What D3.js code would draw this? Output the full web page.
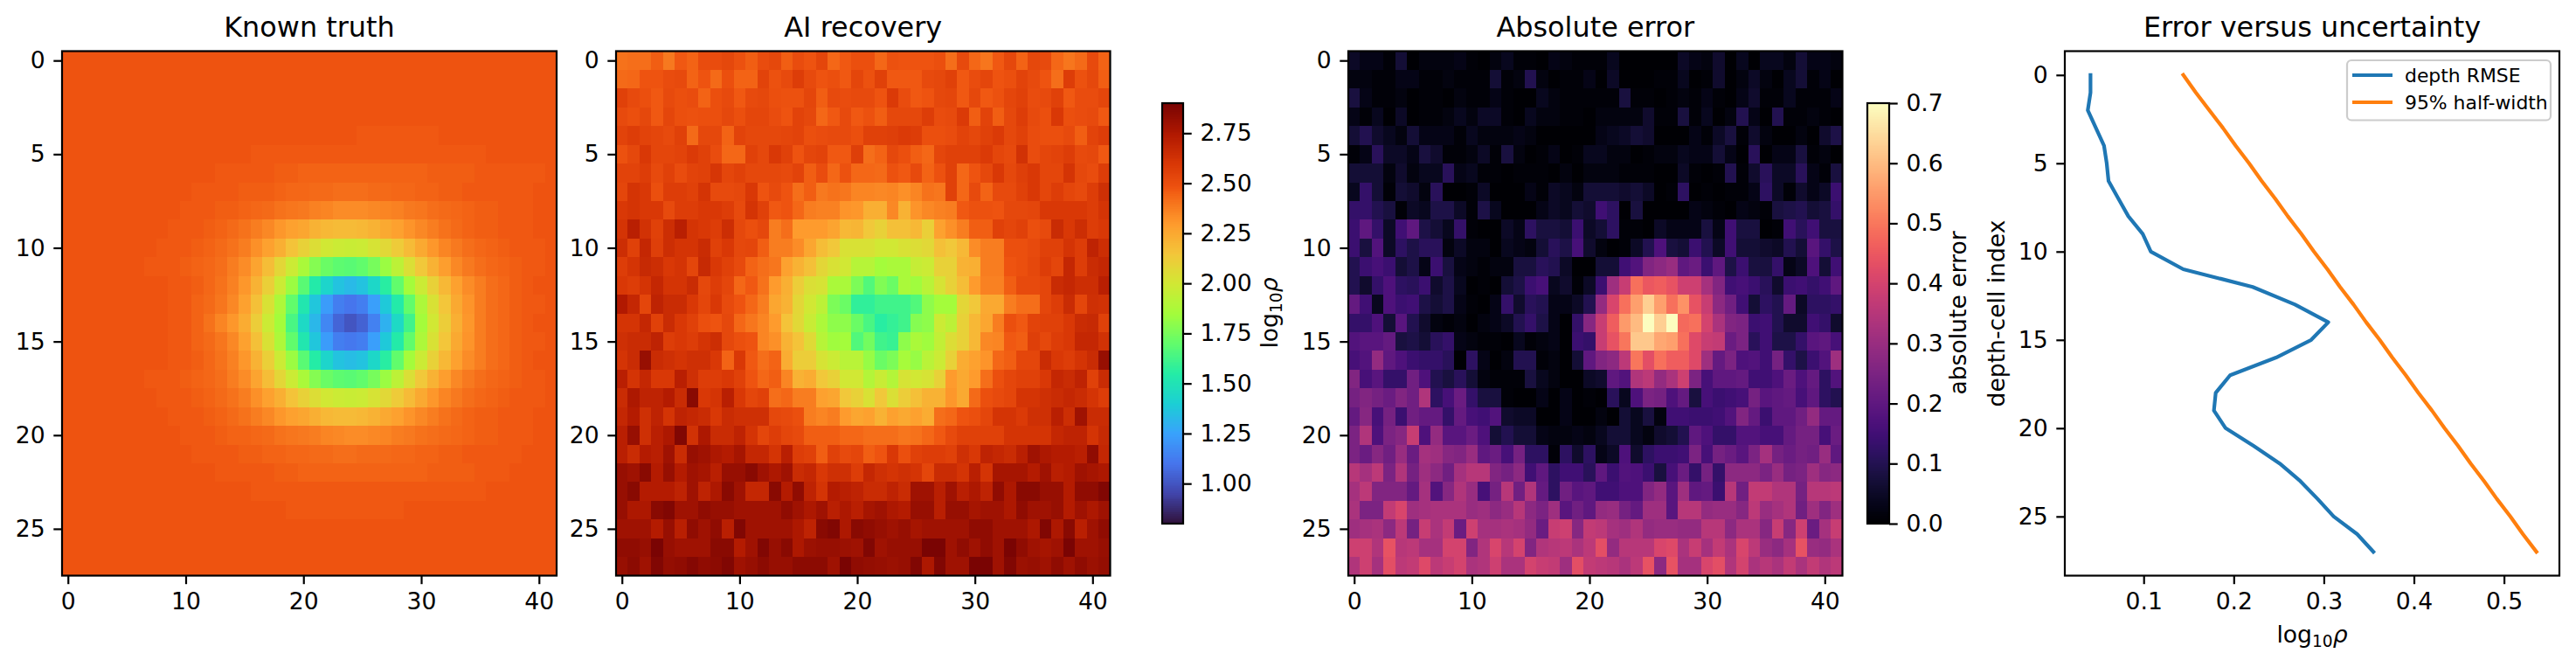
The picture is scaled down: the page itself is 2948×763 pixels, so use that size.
<!DOCTYPE html>
<html>
  <head>
    <meta charset="UTF-8" />
    <script src="https://d3js.org/d3.v7.min.js"></script>
    <style>
      body { margin: 0; background: #fff; }
      text { font-family: "DejaVu Sans", sans-serif; fill: #000; }
    </style>
  </head>
  <body>
    <div id="my_dataviz"></div>

    <script>
      // log10 rho x 100
      const truthRows = [
        [248,248,248,248,248,248,248,248,248,248,248,248,248,248,248,248,248,248,248,248,248,248,248,248,248,248,248,248,248,248,248,248,248,248,248,248,248,248,248,248,248,248],
        [248,248,248,248,248,248,248,248,248,248,248,248,248,248,248,248,248,248,248,248,248,248,248,248,248,248,248,248,248,248,248,248,248,248,248,248,248,248,248,248,248,248],
        [248,248,248,248,248,248,248,248,248,248,248,248,248,248,248,248,248,248,248,248,248,248,248,248,248,248,248,248,248,248,248,248,248,248,248,248,248,248,248,248,248,248],
        [248,248,248,248,248,248,248,248,248,248,248,248,248,248,248,248,248,248,248,248,248,248,248,248,248,248,248,248,248,248,248,248,248,248,248,248,248,248,248,248,248,248],
        [248,248,248,248,248,248,248,248,248,248,248,248,248,248,248,248,248,248,248,248,248,248,248,248,248,247,247,247,247,247,247,247,248,248,248,248,248,248,248,248,248,248],
        [248,248,248,248,248,248,248,248,248,248,248,248,248,248,248,248,247,247,247,247,247,247,247,247,247,247,247,247,247,247,247,247,247,247,247,247,248,248,248,248,248,248],
        [248,248,248,248,248,248,248,248,248,248,248,248,248,247,247,247,247,247,246,246,245,245,245,245,245,245,245,245,245,245,245,246,246,246,246,247,247,247,247,247,247,248],
        [248,248,248,248,248,248,248,248,248,248,248,247,247,247,247,246,246,246,245,244,244,243,243,242,242,242,243,243,244,244,245,245,246,246,247,247,247,247,247,247,248,248],
        [248,248,248,248,248,248,248,248,248,248,247,247,247,246,246,245,244,243,241,240,239,237,236,234,234,234,235,236,237,239,240,242,243,244,245,246,246,247,247,247,248,248],
        [248,248,248,248,248,248,248,248,248,247,247,247,246,245,243,241,238,235,231,228,226,222,220,219,219,220,222,225,228,232,235,238,241,243,245,246,246,247,247,247,248,248],
        [248,248,248,248,248,248,248,248,247,247,247,246,245,243,241,238,233,228,223,216,210,205,200,198,197,198,202,207,213,219,225,231,236,239,242,244,245,246,247,247,247,248],
        [248,248,248,248,248,248,248,247,247,247,246,245,244,242,238,234,227,218,208,198,187,178,172,169,168,170,175,183,193,204,214,222,229,235,239,242,244,245,246,247,247,248],
        [248,248,248,248,248,248,248,248,248,247,247,246,244,241,237,231,222,211,198,183,168,154,143,136,133,136,144,156,170,185,198,210,220,228,234,238,242,244,246,247,248,248],
        [248,248,248,248,248,248,248,248,248,247,247,245,243,240,235,228,217,203,188,170,152,137,123,113,110,113,124,138,154,170,188,203,215,225,232,238,242,244,246,247,247,248],
        [248,248,248,248,248,248,248,248,248,247,247,245,241,236,231,224,212,198,185,164,145,132,116,105,100,104,114,130,145,162,185,200,212,223,231,238,242,244,246,247,248,248],
        [248,248,248,248,248,248,248,248,248,247,247,245,243,240,235,228,217,203,188,170,152,137,123,113,111,113,124,138,154,170,188,203,215,225,232,238,242,244,246,247,247,248],
        [248,248,248,248,248,248,248,248,248,247,247,246,244,241,237,231,222,211,198,183,168,155,143,136,134,136,144,156,170,185,198,210,220,228,234,238,242,244,246,247,248,248],
        [248,248,248,248,248,248,248,247,247,247,246,245,244,242,238,234,227,218,208,198,187,178,172,169,168,170,175,183,193,204,214,222,229,235,239,242,244,245,246,247,247,248],
        [248,248,248,248,248,248,248,248,247,247,247,246,245,243,241,238,233,228,223,216,210,205,200,198,197,198,202,207,213,219,225,231,236,239,242,244,245,246,247,247,247,248],
        [248,248,248,248,248,248,248,248,248,247,247,247,246,245,243,241,238,235,231,228,226,223,220,219,219,220,222,225,228,232,235,238,241,243,245,246,246,247,247,247,248,248],
        [248,248,248,248,248,248,248,248,248,248,247,247,247,246,245,245,244,243,241,240,239,238,236,235,234,234,235,236,238,239,241,242,243,244,245,246,246,247,247,247,248,248],
        [248,248,248,248,248,248,248,248,248,248,248,247,247,247,247,246,246,245,245,244,244,243,243,242,242,243,243,243,244,244,245,245,246,246,247,247,247,247,247,248,248,248],
        [248,248,248,248,248,248,248,248,248,248,248,248,248,247,247,247,247,247,246,246,245,245,245,245,245,245,245,245,245,245,245,246,246,246,246,247,247,247,248,248,248,248],
        [248,248,248,248,248,248,248,248,248,248,248,248,248,248,248,248,247,247,247,247,247,247,247,247,247,247,247,247,247,247,247,247,247,247,247,247,248,248,248,248,248,248],
        [248,248,248,248,248,248,248,248,248,248,248,248,248,248,248,248,248,248,248,247,247,247,247,247,247,247,247,247,247,248,248,248,248,248,248,248,248,248,248,248,248,248],
        [248,248,248,248,248,248,248,248,248,248,248,248,248,248,248,248,248,248,248,248,248,248,248,248,248,248,248,248,248,248,248,248,248,248,248,248,248,248,248,248,248,248],
        [248,248,248,248,248,248,248,248,248,248,248,248,248,248,248,248,248,248,248,248,248,248,248,248,248,248,248,248,248,248,248,248,248,248,248,248,248,248,248,248,248,248],
        [248,248,248,248,248,248,248,248,248,248,248,248,248,248,248,248,248,248,248,248,248,248,248,248,248,248,248,248,248,248,248,248,248,248,248,248,248,248,248,248,248,248],
      ];

      // log10 rho x 100
      const recoveredRows = [
        [241,242,242,246,239,247,245,251,251,253,249,246,251,253,246,251,248,254,244,247,250,250,244,249,248,248,248,250,242,252,244,240,247,253,245,253,252,244,240,243,252,245],
        [243,244,248,248,251,252,245,248,243,250,245,245,255,249,252,258,252,248,250,247,254,249,256,247,247,247,252,253,256,247,251,254,248,250,255,252,248,242,258,249,253,246],
        [256,252,250,247,252,250,251,245,250,252,247,252,253,250,249,249,254,246,252,251,252,252,248,259,251,247,248,253,254,247,253,247,249,254,256,251,252,256,247,251,251,254],
        [252,250,253,247,254,250,249,250,250,253,250,254,254,251,248,255,253,244,247,252,247,249,246,253,253,253,258,251,252,259,246,255,246,253,258,252,250,260,250,251,252,247],
        [255,258,255,254,252,256,243,253,253,245,255,253,253,253,254,255,250,251,252,252,250,256,256,257,259,258,250,250,251,255,253,256,259,253,256,251,250,250,252,246,255,258],
        [249,253,260,254,254,255,259,256,251,244,244,256,253,260,256,248,254,255,247,247,257,242,245,253,250,246,244,254,256,256,256,259,254,252,263,251,254,255,258,252,253,247],
        [255,255,258,252,256,251,255,256,261,254,256,253,253,253,252,255,246,251,244,249,244,244,243,249,247,252,245,249,256,244,248,253,260,253,257,260,254,254,262,253,251,258],
        [254,262,260,250,258,258,256,262,252,252,253,260,248,252,248,242,246,239,241,240,236,236,235,236,233,236,241,240,256,244,252,245,252,252,256,260,254,258,254,252,258,264],
        [260,262,260,260,252,258,258,260,260,258,252,262,256,247,248,244,238,237,237,232,231,223,223,235,222,232,235,237,238,247,249,249,248,253,253,254,260,260,260,260,258,262],
        [262,272,263,256,265,272,262,260,258,265,253,250,253,238,242,230,230,230,227,220,221,214,210,217,217,220,211,228,233,238,246,246,256,254,256,250,252,266,260,265,258,260],
        [265,256,268,257,265,262,262,266,256,260,253,254,246,238,238,234,226,218,214,203,203,203,200,200,203,205,207,217,214,220,234,238,238,250,250,252,256,256,262,258,270,265],
        [258,262,267,265,260,262,254,267,260,256,252,245,242,240,228,222,217,208,203,200,191,191,185,187,187,196,198,210,210,222,223,238,238,248,250,253,258,254,268,258,266,268],
        [260,258,262,268,262,262,266,253,258,254,244,247,241,230,223,212,204,202,187,187,176,166,177,172,187,184,192,202,210,218,230,237,237,246,252,252,254,266,268,265,265,272],
        [275,268,254,270,266,266,260,254,260,252,248,244,238,226,222,208,200,193,176,172,158,158,162,162,162,166,180,185,185,208,214,225,225,238,242,242,254,258,266,254,264,263],
        [262,262,268,256,266,260,256,250,248,253,244,240,236,230,216,207,197,188,180,180,172,164,156,159,162,178,180,198,193,210,220,226,238,250,247,255,256,256,260,266,267,256],
        [264,266,266,270,258,260,258,262,265,253,250,248,236,233,222,216,206,191,184,185,166,174,162,160,180,187,184,195,205,210,220,235,236,247,246,257,253,258,260,268,268,263],
        [262,266,282,266,264,262,264,264,260,245,260,247,242,245,224,212,212,202,198,192,192,182,172,176,186,182,192,198,210,224,228,232,244,246,254,254,266,260,258,262,266,282],
        [272,262,268,260,260,272,264,258,258,260,256,248,244,246,236,222,224,214,210,200,200,190,197,190,202,200,202,210,230,225,230,242,250,254,256,256,260,268,266,270,256,266],
        [266,276,270,270,274,266,286,260,262,272,260,254,256,242,244,238,238,228,226,214,210,203,214,204,212,217,222,222,231,225,243,250,252,254,262,262,264,266,268,266,262,258],
        [268,274,264,270,262,270,268,266,260,266,264,264,264,253,252,250,238,236,238,230,226,228,222,228,225,228,224,242,244,248,250,254,262,262,259,264,264,272,265,280,266,266],
        [272,282,264,272,276,288,263,276,266,266,270,262,254,258,254,252,246,246,246,244,244,242,242,242,240,241,244,247,252,256,256,256,256,262,262,262,262,268,270,270,262,267],
        [272,266,274,272,280,266,282,280,276,274,278,268,268,262,272,258,256,246,256,252,254,246,248,260,250,256,258,258,256,264,260,270,268,266,272,280,276,274,274,272,284,268],
        [282,280,286,274,282,274,280,278,272,282,282,286,280,276,280,266,268,260,264,264,258,268,264,262,264,262,254,266,266,262,272,262,278,278,278,274,280,272,274,280,278,276],
        [282,286,274,274,274,270,280,270,276,286,280,268,268,286,274,284,270,262,274,272,270,266,266,270,266,280,280,272,280,272,276,270,284,276,286,286,282,282,274,284,284,288],
        [282,276,276,286,288,280,280,284,282,282,280,280,280,280,284,280,276,280,272,276,272,278,280,276,274,282,282,272,282,282,278,280,280,276,284,280,280,282,274,280,276,280],
        [280,280,280,274,282,272,284,280,284,272,288,280,280,280,280,276,270,286,288,276,286,284,282,280,282,278,280,280,280,280,284,284,280,280,280,276,288,276,286,272,280,284],
        [284,284,282,290,282,280,280,280,286,286,274,280,288,282,286,276,281,282,282,281,280,288,280,282,282,282,290,290,280,284,280,284,280,290,284,280,278,280,290,280,280,282],
        [282,285,280,288,283,284,287,284,285,288,280,282,285,282,282,285,285,285,280,290,284,283,282,281,282,288,276,288,280,280,290,290,280,288,281,282,280,284,280,284,281,283],
      ];

      // absolute error x 100
      const errorRows = [
        [5,3,3,1,7,0,2,2,2,3,1,0,2,4,1,1,0,3,2,1,1,1,4,0,0,0,0,0,5,3,2,6,0,4,0,4,4,2,7,3,3,2],
        [2,2,1,1,3,3,1,1,2,1,1,1,7,1,2,10,2,0,1,1,3,0,5,0,0,0,1,1,4,0,1,6,0,2,5,2,0,4,7,1,3,0],
        [8,3,1,1,2,0,1,1,0,2,1,1,3,1,0,0,4,2,1,1,1,1,1,8,1,1,0,1,2,1,3,1,0,3,6,1,1,4,1,1,1,3],
        [3,1,4,0,5,0,1,1,2,4,2,5,5,1,0,4,2,2,1,1,0,2,2,2,2,6,1,1,8,1,4,0,2,10,3,0,10,1,1,2,1,0],
        [7,10,6,4,2,7,3,3,3,1,4,2,2,2,3,2,0,0,0,0,0,3,4,5,7,6,0,0,0,3,1,5,8,1,6,2,0,0,2,0,6,9],
        [1,3,11,5,5,3,8,6,1,1,2,5,1,8,2,0,1,3,0,1,4,4,2,2,0,1,2,2,4,3,3,7,3,0,11,0,3,3,8,1,2,0],
        [7,7,7,2,6,2,4,4,11,3,4,1,1,0,1,1,1,0,2,0,2,2,2,1,1,1,0,0,5,1,0,1,10,1,6,11,5,5,11,3,1,8],
        [4,13,7,1,7,6,2,11,0,0,1,5,0,0,0,3,1,5,4,2,7,7,7,6,7,5,0,1,12,0,1,0,1,1,3,12,5,1,6,3,5,14],
        [13,13,10,8,1,5,4,9,9,5,1,9,4,0,0,0,3,5,4,7,6,15,12,0,8,0,0,0,0,3,2,1,0,3,2,1,8,9,10,7,8,13],
        [14,20,13,5,15,20,9,7,4,13,1,0,0,5,3,12,8,8,7,14,5,7,12,1,1,0,5,3,3,3,8,3,15,8,8,0,1,15,11,15,8,8],
        [14,8,18,5,12,9,11,11,2,5,2,2,0,4,3,2,7,11,9,16,6,2,0,1,5,10,17,8,7,14,10,5,15,7,7,6,5,10,7,19,13,9],
        [10,14,16,14,7,9,3,14,8,3,2,1,2,2,8,8,11,10,5,0,0,7,7,15,18,26,28,30,20,22,14,20,9,14,8,8,13,3,5,17,7,15],
        [10,6,13,17,12,11,14,6,9,4,0,1,0,7,9,14,16,4,6,1,5,14,31,38,49,45,46,44,39,39,32,26,15,16,14,11,6,14,15,13,15,20],
        [21,15,4,17,14,15,9,7,9,3,1,0,3,13,6,11,10,3,3,5,10,29,41,49,56,63,56,49,54,44,38,28,23,15,7,12,10,21,5,12,12,13],
        [13,13,17,7,19,10,6,2,1,2,0,2,3,5,10,13,9,3,0,13,27,38,46,55,60,70,63,70,48,49,40,33,26,25,14,15,10,6,6,15,13,6],
        [18,19,19,21,8,9,7,11,13,3,2,1,1,0,4,1,2,3,0,14,13,38,44,50,62,62,57,56,49,42,38,37,22,25,11,15,9,9,13,19,20,16],
        [16,18,29,20,17,14,13,13,11,0,12,3,0,2,10,10,1,2,0,7,20,26,28,36,50,43,49,46,46,42,31,21,25,17,18,15,24,13,9,14,18,31],
        [26,16,19,13,13,23,17,10,8,11,7,2,1,1,1,8,4,2,0,0,5,6,20,18,34,36,29,33,39,25,16,20,20,21,15,15,17,22,17,21,12,18],
        [24,26,24,22,26,23,34,12,16,22,13,8,8,1,0,0,3,0,3,0,1,0,11,4,17,25,24,17,21,8,16,14,15,16,24,19,20,21,16,20,12,10],
        [21,27,16,24,14,23,21,21,13,21,16,15,18,6,5,5,0,0,3,0,0,2,0,7,4,8,2,15,15,14,14,15,18,26,21,14,20,20,23,29,21,21],
        [25,34,17,25,27,38,17,29,19,19,22,17,7,10,7,7,3,2,2,3,2,4,7,7,4,2,6,7,10,20,17,13,13,18,18,16,16,21,24,24,16,22],
        [25,22,27,23,30,22,32,31,27,26,30,20,22,16,24,12,12,1,12,6,12,3,5,17,6,12,14,14,15,25,16,24,22,19,25,32,24,22,24,23,30,20],
        [35,32,36,25,34,24,31,28,23,32,35,35,26,24,28,15,20,12,15,15,11,20,14,18,17,14,8,16,22,13,24,13,28,28,28,25,30,24,25,31,27,28],
        [32,36,26,26,26,21,32,18,27,34,30,16,24,35,23,34,21,12,23,19,20,15,15,17,17,26,29,19,31,20,21,14,35,23,37,37,34,34,24,35,35,36],
        [33,25,25,37,41,31,32,33,33,33,30,31,28,30,35,28,25,31,19,23,20,29,30,24,21,31,31,19,35,35,29,30,30,27,36,30,32,34,23,31,26,31],
        [31,32,33,28,36,24,38,33,37,22,39,32,32,33,32,29,22,38,39,27,37,36,32,31,34,29,30,30,29,29,35,35,28,33,33,27,38,27,39,22,32,38],
        [39,39,34,44,35,36,32,32,40,40,26,34,41,35,40,26,34,35,36,33,36,43,29,35,35,35,41,42,33,38,32,37,33,41,36,30,28,32,44,30,29,33],
        [34,39,32,43,36,37,42,36,38,40,33,34,39,33,33,40,38,37,31,43,37,36,35,33,36,44,28,44,32,32,41,43,34,40,33,35,33,37,33,37,34,36],
      ];

      const depthRmse = [0.041,0.041,0.038,0.047,0.056,0.059,0.061,0.072,0.083,0.099,0.108,0.144,0.221,0.268,0.305,0.286,0.247,0.196,0.18,0.178,0.191,0.222,0.251,0.274,0.293,0.311,0.337,0.355];
      const halfWidth = [0.144,0.158,0.173,0.188,0.202,0.217,0.231,0.246,0.26,0.275,0.289,0.304,0.318,0.333,0.347,0.362,0.376,0.391,0.405,0.42,0.434,0.449,0.463,0.478,0.492,0.507,0.521,0.536];

      const xTicks = [0, 10, 20, 30, 40];
      const yTicks = [0, 5, 10, 15, 20, 25];
      const rhoTicks = [1, 1.25, 1.5, 1.75, 2, 2.25, 2.5, 2.75];
      const errTicks = [0, 0.1, 0.2, 0.3, 0.4, 0.5, 0.6, 0.7];
      const lineTicks = [0.1, 0.2, 0.3, 0.4, 0.5];

      const turboValues = [0.8,0.95,1.1,1.25,1.4,1.55,1.7,1.85,2,2.15,2.3,2.45,2.48,2.6,2.75,2.9];
      const turboStops = ["#30123b","#4145ab","#4675ed","#39a2fc","#1bcfd4","#24eca6","#61fc6c","#a4fc3b","#d1e834","#f3c63a","#fe9b2d","#f36315","#ee5310","#d93806","#b11901","#7a0403"];

      var width = 2948,
        height = 763,
        top0 = 58.5,
        bottom0 = 658.5,
        tickLen = 9.7,
        tickPad = 9.7,
        lw = 2.2,
        labelSize = 26.6;

      var rhoColor = d3.scaleLinear().domain(turboValues).range(turboStops).clamp(true);
      var errColor = (v) => d3.interpolateMagma(Math.min(v / 0.7, 1));

      var svg = d3
        .select("#my_dataviz")
        .append("svg")
        .attr("width", width)
        .attr("height", height)
        .style("display", "block");

      function styleAxis(g) {
        g.selectAll(".domain").remove();
        g.selectAll("line").attr("stroke", "#000").attr("stroke-width", lw);
        g.selectAll("text").attr("font-size", labelSize).attr("font-family", "DejaVu Sans");
      }

      function spine(x0, x1, y0, y1) {
        svg
          .append("rect")
          .attr("x", x0)
          .attr("y", y0)
          .attr("width", x1 - x0)
          .attr("height", y1 - y0)
          .attr("fill", "none")
          .attr("stroke", "#000")
          .attr("stroke-width", lw);
      }

      function title(x, label) {
        svg
          .append("text")
          .attr("x", x)
          .attr("y", 42)
          .attr("text-anchor", "middle")
          .attr("font-size", 31.9)
          .text(label);
      }

      // log10 with a lowered 10 and an italic rho
      function logRho(sel) {
        sel.append("tspan").text("log");
        sel.append("tspan").attr("font-size", 18.6).attr("dy", 5).text("10");
        sel.append("tspan").attr("font-style", "italic").attr("dy", -5).text("ρ");
      }

      function heatmap(rows, color, x0, x1, label) {
        var x = d3.scaleLinear().domain([-0.5, 41.5]).range([x0, x1]);
        var y = d3.scaleLinear().domain([-0.5, 27.5]).range([top0, bottom0]);
        var cells = [];
        rows.forEach((row, r) => row.forEach((v, c) => cells.push({ r: r, c: c, v: v })));
        svg
          .append("g")
          .attr("shape-rendering", "crispEdges")
          .selectAll("rect")
          .data(cells)
          .enter()
          .append("rect")
          .attr("x", (d) => x(d.c - 0.5))
          .attr("y", (d) => y(d.r - 0.5))
          .attr("width", x(1) - x(0) + 0.5)
          .attr("height", y(1) - y(0) + 0.5)
          .attr("fill", (d) => color(d.v / 100));
        svg
          .append("g")
          .attr("transform", "translate(0," + bottom0 + ")")
          .call(d3.axisBottom(x).tickValues(xTicks).tickSize(tickLen).tickPadding(tickPad))
          .call(styleAxis);
        svg
          .append("g")
          .attr("transform", "translate(" + x0 + ",0)")
          .call(d3.axisLeft(y).tickValues(yTicks).tickSize(tickLen).tickPadding(tickPad))
          .call(styleAxis);
        spine(x0, x1, top0, bottom0);
        title((x0 + x1) / 2, label);
      }

      function colorbar(color, domain, ticks, fmt, x0, x1) {
        var y0 = 118,
          y1 = 599;
        var y = d3.scaleLinear().domain(domain).range([y1, y0]);
        var steps = d3.range(256).map((i) => domain[0] + ((domain[1] - domain[0]) * i) / 255);
        svg
          .append("g")
          .attr("shape-rendering", "crispEdges")
          .selectAll("rect")
          .data(steps)
          .enter()
          .append("rect")
          .attr("x", x0)
          .attr("width", x1 - x0)
          .attr("y", (d, i) => y1 - ((y1 - y0) * (i + 1)) / 256)
          .attr("height", (y1 - y0) / 256 + 0.6)
          .attr("fill", (d) => color(d));
        svg
          .append("g")
          .attr("transform", "translate(" + x1 + ",0)")
          .call(d3.axisRight(y).tickValues(ticks).tickSize(tickLen).tickPadding(tickPad).tickFormat(d3.format(fmt)))
          .call(styleAxis);
        spine(x0, x1, y0, y1);
      }

      heatmap(truthRows, rhoColor, 71, 637, "Known truth");
      heatmap(recoveredRows, rhoColor, 705, 1270.5, "AI recovery");
      heatmap(errorRows, errColor, 1543, 2108.5, "Absolute error");

      colorbar(rhoColor, [0.8, 2.9], rhoTicks, ".2f", 1330, 1354);
      colorbar(errColor, [0, 0.7], errTicks, ".1f", 2137, 2162);

      svg
        .append("text")
        .attr("transform", "translate(1462,358) rotate(-90)")
        .attr("text-anchor", "middle")
        .attr("font-size", labelSize)
        .call(logRho);
      svg
        .append("text")
        .attr("transform", "translate(2250,358) rotate(-90)")
        .attr("text-anchor", "middle")
        .attr("font-size", labelSize)
        .text("absolute error");

      // right panel
      var lineX = d3.scaleLinear().domain([0.0125, 0.5615]).range([2363, 2929]);
      var lineY = d3.scaleLinear().domain([-1.35, 28.35]).range([top0, bottom0]);
      var depthLine = d3
        .line()
        .x((d) => lineX(d))
        .y((d, i) => lineY(i));

      [
        [depthRmse, "#1f77b4"],
        [halfWidth, "#ff7f0e"],
      ].forEach((s) => {
        svg
          .append("path")
          .datum(s[0])
          .attr("d", depthLine)
          .attr("fill", "none")
          .attr("stroke", s[1])
          .attr("stroke-width", 4.2)
          .attr("stroke-linejoin", "round")
          .attr("stroke-linecap", "square");
      });

      svg
        .append("g")
        .attr("transform", "translate(0," + bottom0 + ")")
        .call(d3.axisBottom(lineX).tickValues(lineTicks).tickSize(tickLen).tickPadding(tickPad).tickFormat(d3.format(".1f")))
        .call(styleAxis);
      svg
        .append("g")
        .attr("transform", "translate(2363,0)")
        .call(d3.axisLeft(lineY).tickValues(yTicks).tickSize(tickLen).tickPadding(tickPad))
        .call(styleAxis);
      spine(2363, 2929, top0, bottom0);
      title(2646, "Error versus uncertainty");

      svg
        .append("text")
        .attr("x", 2646)
        .attr("y", 735)
        .attr("text-anchor", "middle")
        .attr("font-size", labelSize)
        .call(logRho);
      svg
        .append("text")
        .attr("transform", "translate(2294,358.5) rotate(-90)")
        .attr("text-anchor", "middle")
        .attr("font-size", labelSize)
        .text("depth-cell index");

      // legend
      svg
        .append("rect")
        .attr("x", 2686)
        .attr("y", 69)
        .attr("width", 233)
        .attr("height", 68.5)
        .attr("rx", 5)
        .attr("fill", "#fff")
        .attr("fill-opacity", 0.8)
        .attr("stroke", "#ccc")
        .attr("stroke-width", 2.2);
      [
        ["depth RMSE", "#1f77b4", 86],
        ["95% half-width", "#ff7f0e", 117],
      ].forEach((s) => {
        svg
          .append("line")
          .attr("x1", 2692)
          .attr("x2", 2738)
          .attr("y1", s[2])
          .attr("y2", s[2])
          .attr("stroke", s[1])
          .attr("stroke-width", 4.2);
        svg
          .append("text")
          .attr("x", 2752)
          .attr("y", s[2] + 7.7)
          .attr("font-size", 21.9)
          .text(s[0]);
      });
    </script>
  </body>
</html>
